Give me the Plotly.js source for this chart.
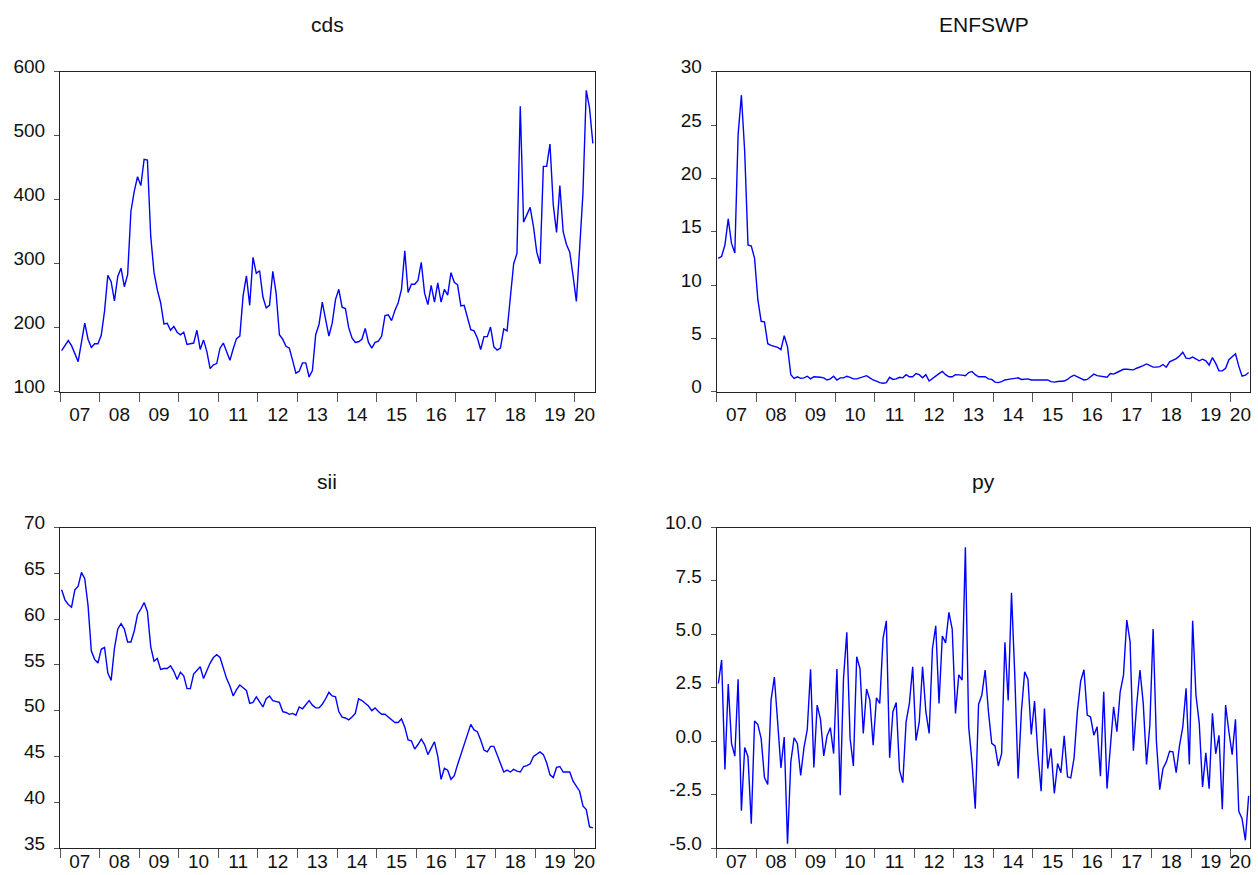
<!DOCTYPE html>
<html>
<head>
<meta charset="utf-8">
<script src="https://cdn.plot.ly/plotly-3.0.1.min.js"></script>
<style>html,body{margin:0;padding:0;background:#fff;}#chart{width:1258px;height:875px;}</style>
</head>
<body>
<div id="chart"></div>
<script>
// Monthly observations 2007M01 - 2020M06
var startYear = 2007;
var yearLabels = ['07','08','09','10','11','12','13','14','15','16','17','18','19','20'];

var cds = [164,172,180,172,159,147,177,207,182,169,175,175,
188,226,282,272,242,280,293,264,283,382,413,436,
422,463,462,343,286,259,239,206,207,196,202,193,
189,193,174,175,176,196,166,181,163,136,142,144,
168,176,162,149,167,183,187,250,281,235,310,285,
289,248,231,235,288,254,189,182,171,168,149,129,
132,145,145,123,133,189,205,240,213,187,207,244,
260,232,230,200,184,177,178,182,199,177,168,177,
179,187,219,220,211,227,239,260,320,255,268,268,
274,302,254,236,266,240,270,240,260,251,286,271,
267,234,235,218,197,195,184,166,186,186,201,170,
165,168,198,195,254,300,316,546,365,376,388,358,
318,300,452,452,487,392,349,422,350,330,318,281,
241,324,410,571,543,488];

var enfswp = [12.5,12.7,13.75,16.2,13.9,13.0,24.1,27.8,22.5,13.75,13.65,12.5,
8.6,6.6,6.55,4.5,4.35,4.25,4.15,3.95,5.25,4.2,1.6,1.25,
1.4,1.25,1.3,1.45,1.2,1.4,1.4,1.35,1.3,1.1,1.2,1.45,
1.1,1.3,1.3,1.45,1.35,1.2,1.2,1.3,1.45,1.5,1.3,1.1,
1.0,0.85,0.8,0.85,1.35,1.15,1.2,1.35,1.3,1.6,1.4,1.4,
1.7,1.6,1.3,1.6,1.0,1.25,1.45,1.7,1.9,1.6,1.4,1.4,
1.6,1.6,1.55,1.5,1.8,1.9,1.6,1.4,1.4,1.4,1.2,1.15,
0.9,0.85,0.95,1.1,1.15,1.2,1.3,1.3,1.15,1.2,1.2,1.1,
1.1,1.1,1.1,1.1,1.1,0.95,0.9,0.95,1.0,1.0,1.15,1.4,
1.55,1.4,1.25,1.1,1.15,1.4,1.65,1.5,1.45,1.45,1.35,1.7,
1.65,1.8,1.95,2.1,2.1,2.1,2.05,2.2,2.3,2.45,2.6,2.45,
2.3,2.3,2.35,2.55,2.3,2.8,2.95,3.1,3.35,3.7,3.15,3.1,
3.25,3.1,2.9,3.05,2.9,2.5,3.2,2.65,1.95,1.95,2.2,3.0,
3.3,3.55,2.4,1.45,1.55,1.8];

var sii = [63.2,62.1,61.6,61.3,63.2,63.6,65.1,64.4,61.5,56.5,55.6,55.2,
56.7,56.9,54.1,53.3,56.8,58.9,59.5,58.9,57.5,57.5,58.7,60.5,
61.1,61.8,60.8,57.0,55.4,55.7,54.5,54.6,54.6,54.9,54.3,53.4,
54.2,53.8,52.4,52.4,54.0,54.4,54.8,53.5,54.4,55.2,55.8,56.1,
55.8,54.7,53.5,52.7,51.6,52.3,52.8,52.5,52.2,50.8,50.9,51.5,
50.9,50.4,51.3,51.6,51.1,51.0,50.9,49.9,49.8,49.6,49.7,49.5,
50.4,50.2,50.6,51.1,50.6,50.3,50.3,50.7,51.3,52.0,51.6,51.5,
49.9,49.3,49.2,49.0,49.3,49.7,51.3,51.1,50.8,50.5,50.0,50.3,
49.9,49.6,49.6,49.3,48.9,48.7,48.7,49.1,48.2,46.8,46.7,45.8,
46.3,46.9,46.3,45.2,45.9,46.6,45.0,42.5,43.7,43.5,42.5,42.9,
44.1,45.2,46.4,47.6,48.5,47.9,47.7,46.8,45.7,45.5,46.1,46.1,
45.2,44.3,43.3,43.5,43.3,43.6,43.4,43.3,43.9,44.0,44.2,45.0,
45.3,45.5,45.2,44.3,43.0,42.7,43.8,43.9,43.3,43.3,43.3,42.3,
41.7,41.2,39.6,39.2,37.3,37.2];

var py = [2.7,3.8,-1.33,2.67,-0.1,-0.7,2.9,-3.25,-0.3,-0.73,-3.86,0.94,
0.78,0.12,-1.7,-2.03,1.92,3.0,0.9,-1.25,0.19,-4.8,-0.97,0.16,
-0.12,-1.6,-0.3,0.55,3.36,-1.23,1.69,1.03,-0.69,0.25,0.63,-0.58,
3.38,-2.53,2.94,5.1,0.13,-1.16,3.95,3.4,0.36,2.44,1.92,-0.19,
2.03,1.77,4.8,5.63,-0.78,1.38,1.81,-1.36,-1.94,0.9,1.77,3.48,
0.03,0.9,3.48,1.38,0.36,4.34,5.4,1.77,4.92,4.6,6.03,5.25,
1.3,3.1,2.86,9.08,0.67,-0.97,-3.16,1.72,2.16,3.33,1.38,-0.1,
-0.22,-1.16,-0.58,4.63,1.9,6.94,3.09,-1.75,1.38,3.25,2.9,0.31,
1.88,-0.58,-2.34,1.53,-1.28,-0.34,-2.45,-1.05,-1.48,0.25,-1.67,-1.72,
-0.78,1.38,2.81,3.34,1.22,1.13,0.28,0.67,-1.64,2.31,-2.22,-0.34,
1.61,0.44,2.31,3.09,5.67,4.66,-0.45,1.69,3.33,1.77,-1.09,0.75,
5.25,-0.03,-2.27,-1.28,-0.97,-0.47,-0.5,-1.47,-0.22,0.67,2.47,-1.09,
5.63,2.16,0.83,-2.14,-0.55,-2.22,1.3,-0.59,0.27,-3.19,1.69,0.44,
-0.63,1.02,-3.28,-3.63,-4.64,-2.56];

var cdsTicks = [100,200,300,400,500,600];
var enfTicks = [0,5,10,15,20,25,30];
var siiTicks = [35,40,45,50,55,60,65,70];
var pyTicks = [-5,-2.5,0,2.5,5,7.5,10];
var pyTickText = ['-5.0','-2.5','0.0','2.5','5.0','7.5','10.0'];

// time positions (decimal years, middle of each month)
var nObs = cds.length;
var t = [];
for (var i = 0; i < nObs; i++) t.push(startYear + (i + 0.5) / 12);
var tEnd = startYear + nObs / 12;
var yearTicks = [], labelPos = [];
for (var k = 0; k < yearLabels.length; k++) {
  yearTicks.push(startYear + k);
  labelPos.push(Math.min(startYear + k + 0.5, (startYear + k + tEnd) / 2));
}

var W = 1258, H = 875;
var dxL = [60 / W, 594.5 / W], dxR = [716.7 / W, 1250.3 / W];
var dyT = [1 - 391.7 / H, 1 - 71.7 / H], dyB = [1 - 848 / H, 1 - 527.5 / H];
var FONT = 'Arial, "Liberation Sans", sans-serif';
var line = {color: '#0000FF', width: 1.4};

function xBase(dom, anchor) {
  return {domain: dom, anchor: anchor, range: [startYear, tEnd], tickmode: 'array',
    tickvals: yearTicks, showticklabels: false, ticks: 'outside', ticklen: 9, tickwidth: 1,
    tickcolor: '#555', showline: true, linecolor: '#222', linewidth: 1, mirror: true,
    showgrid: false, zeroline: false, fixedrange: true};
}
function xLab(over, anchor, len) {
  var a = {overlaying: over, anchor: anchor, side: 'bottom', range: [startYear, tEnd],
    tickmode: 'array', tickvals: labelPos, ticktext: yearLabels,
    showline: false, showgrid: false, zeroline: false,
    tickfont: {family: FONT, size: 19, color: '#111'}, fixedrange: true};
  if (len > 0) { a.ticks = 'outside'; a.ticklen = len; a.tickcolor = 'rgba(0,0,0,0)'; }
  else { a.ticks = ''; }
  return a;
}
function yAx(dom, anchor, rng, vals, txt) {
  var a = {domain: dom, anchor: anchor, range: rng, tickmode: 'array', tickvals: vals,
    ticks: 'outside', ticklen: 5, tickwidth: 1, tickcolor: '#555', showline: true,
    linecolor: '#222', linewidth: 1, mirror: true, showgrid: false, zeroline: false,
    tickfont: {family: FONT, size: 19, color: '#111'}, ticklabelstandoff: 5,
    ticklabelshift: -5, fixedrange: true};
  if (txt) a.ticktext = txt;
  return a;
}

var traces = [
  {x: t, y: cds, xaxis: 'x', yaxis: 'y', type: 'scatter', mode: 'lines', line: line, name: 'cds'},
  {x: t, y: enfswp, xaxis: 'x2', yaxis: 'y2', type: 'scatter', mode: 'lines', line: line, name: 'ENFSWP'},
  {x: t, y: sii, xaxis: 'x3', yaxis: 'y3', type: 'scatter', mode: 'lines', line: line, name: 'sii'},
  {x: t, y: py, xaxis: 'x4', yaxis: 'y4', type: 'scatter', mode: 'lines', line: line, name: 'py'}
];

function title(txt, x, y) {
  return {text: txt, xref: 'paper', yref: 'paper', x: x, y: y, xanchor: 'center',
    yanchor: 'middle', showarrow: false, font: {family: FONT, size: 21, color: '#111'}};
}

var layout = {
  width: W, height: H, margin: {l: 0, r: 0, t: 0, b: 0},
  paper_bgcolor: '#fff', plot_bgcolor: '#fff', showlegend: false,
  font: {family: FONT, color: '#111'},
  xaxis: xBase(dxL, 'y'), xaxis2: xBase(dxR, 'y2'), xaxis3: xBase(dxL, 'y3'), xaxis4: xBase(dxR, 'y4'),
  xaxis5: xLab('x', 'y', 5), xaxis6: xLab('x2', 'y2', 5), xaxis7: xLab('x3', 'y3', 0), xaxis8: xLab('x4', 'y4', 0),
  yaxis: yAx(dyT, 'x', [100, 600], cdsTicks),
  yaxis2: yAx(dyT, 'x2', [0, 30], enfTicks),
  yaxis3: yAx(dyB, 'x3', [35, 70], siiTicks),
  yaxis4: yAx(dyB, 'x4', [-5, 10], pyTicks, pyTickText),
  annotations: [
    title('cds', (dxL[0] + dxL[1]) / 2, 1 - 24 / H),
    title('ENFSWP', (dxR[0] + dxR[1]) / 2, 1 - 24 / H),
    title('sii', (dxL[0] + dxL[1]) / 2, 1 - 482 / H),
    title('py', (dxR[0] + dxR[1]) / 2, 1 - 482 / H)
  ]
};

// invisible traces so the label axes get drawn
var lab = [['x5','y'],['x6','y2'],['x7','y3'],['x8','y4']];
lab.forEach(function (p) {
  traces.push({x: [startYear], y: [null], xaxis: p[0], yaxis: p[1], type: 'scatter', mode: 'lines',
    hoverinfo: 'skip', showlegend: false});
});

Plotly.newPlot('chart', traces, layout, {staticPlot: true, displayModeBar: false});
</script>
</body>
</html>
